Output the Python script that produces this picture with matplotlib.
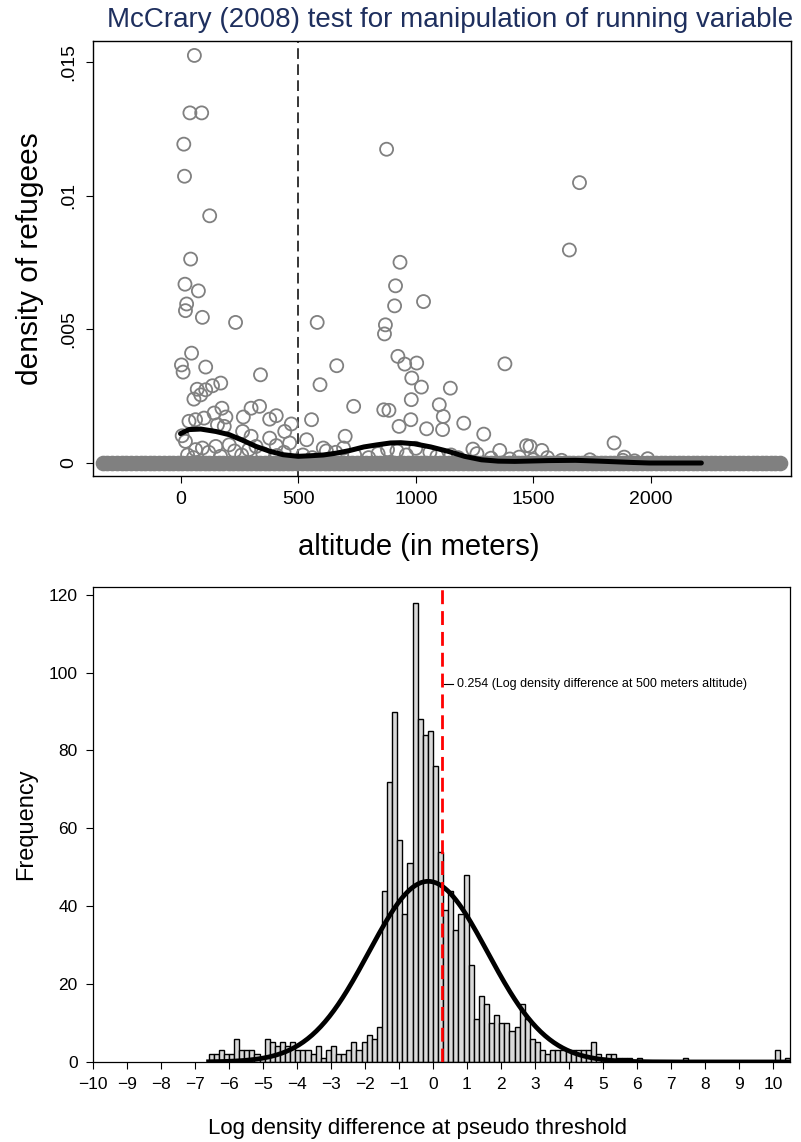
import numpy as np
import matplotlib
matplotlib.use("Agg")
import matplotlib.pyplot as plt

plt.rcParams['font.family'] = ['Liberation Sans', 'DejaVu Sans']

# ---------------- top panel data (altitude in m, density) ----------------
zero_alt = [-330, -312, -290, -271, -250, -232, -210, -191, -170, -151, -130, -112, -90, -71, -50, -31,
            -10, 8, 27, 45, 66, 84, 105, 123, 144, 163, 182, 204, 222, 243, 261, 282, 300, 321, 339,
            360, 378, 399, 418, 437, 458, 476, 497, 515, 536, 554, 575, 593, 614, 633, 652, 673, 691,
            712, 730, 751, 769, 790, 808, 829, 848, 867, 888, 906, 927, 945, 966, 984, 1005, 1023, 1044,
            1063, 1082, 1103, 1121, 1142, 1160, 1181, 1199, 1220, 1238, 1259, 1278, 1297, 1318, 1336,
            1357, 1375, 1396, 1414, 1435, 1453, 1474, 1493, 1512, 1533, 1551, 1572, 1590, 1611, 1629,
            1650, 1668, 1689, 1708, 1727, 1748, 1766, 1787, 1805, 1826, 1844, 1865, 1883, 1904, 1923,
            1942, 1963, 1981, 2002, 2020, 2041, 2059, 2080, 2098, 2119, 2138, 2157, 2178, 2196, 2217,
            2235, 2256, 2274, 2295, 2313, 2334, 2353, 2372, 2393, 2411, 2432, 2450, 2471, 2489, 2510,
            2528, 2549]

pt_alt = [59, 40, 90, 14, 17, 124, 43, 19, 76, 26, 21, 93, 234, 581, 47, 4, 11, 107, 340, 664,
          593, 171, 136, 107, 71, 57, 86, 736, 336, 300, 176, 407, 379, 267, 193, 143, 36, 64, 100,
          157, 186, 471, 443, 557, 700, 264, 300, 379, 7, 21, 536, 64, 93, 150, 207, 321, 407, 464,
          607, 693,
          876, 1696, 1653, 933, 914, 910, 1033, 871, 867, 924, 953, 1004, 1379, 983, 1024, 1147, 981,
          1100, 1117, 864, 886, 1204, 979, 929, 1046, 1114, 1289, 1843, 1243, 1357, 1471, 1486, 1536,
          1886, 1986,
          30, 55, 120, 170, 230, 260, 290, 350, 410, 440, 520, 560, 620, 660, 740, 800, 840, 880,
          920, 960, 1000, 1060, 1090, 1150, 1180, 1260, 1320, 1400, 1440, 1500, 1560, 1620, 1740,
          1880, 1930]
pt_dens = [.01525, .0131, .0131, .01193, .01073, .00925, .00763, .00669, .00644, .00595, .0057,
           .00545, .00526, .00526, .00411, .00367, .0034, .00359, .0033, .00364, .00293, .00299,
           .00289, .00274, .00276, .00239, .00255, .00212, .00212, .00205, .00205, .00177, .00164,
           .00172, .00172, .00187, .00156, .00162, .00168, .00143, .00137, .00146, .00118, .00162,
           .0010, .00118, .0010, .00093, .00102, .00081, .00087, .0005, .00056, .00062, .00068,
           .00062, .00065, .00075, .00056, .00056,
           .01174, .01049, .00797, .00751, .00663, .00588, .00604, .00517, .00483, .00399, .0037,
           .00374, .00371, .00318, .00284, .0028, .00237, .00218, .00174, .00199, .00197, .00149,
           .00162, .00137, .00128, .00125, .00108, .00075, .00052, .00047, .00065, .00062, .00047,
           .00022, .00016,
           .0003, .0002, .0004, .00025, .00045, .0003, .0005, .00035, .00028, .0004, .0003, .0002,
           .00045, .0004, .0003, .0002, .00035, .0005, .00045, .0003, .00055, .0004, .00025, .0003,
           .0002, .00035, .00018, .00015, .00022, .00012, .0002, .0001, .00012, .0001, .00008]

line_alt = [0, 36, 86, 150, 207, 264, 321, 379, 436, 500, 550, 607, 664, 721, 779, 836, 893,
            936, 993, 1064, 1136, 1207, 1279, 1350, 1421, 1564, 1679, 1779, 1921, 1993, 2214]
line_dens = [.0011, .00125, .00127, .00118, .00106, .00085, .00062, .00044, .00031, .00025, .00027,
             .0003, .00037, .00047, .0006, .00068, .00075, .00076, .00072, .0006, .00044, .00025,
             .00012, .00007, .00006, .00009, .0001, .00007, .00002, .0, .0]

cutoff = 500

# ---------------- bottom panel data ----------------
bin_start = -6.6
bin_width = 0.15
counts = [2, 2, 3, 2, 2, 6, 3, 3, 3, 2, 1, 6, 5, 4, 5, 4, 5, 3, 3, 3,
          2, 4, 1, 3, 4, 2, 2, 3, 5, 3, 5, 7, 6, 9, 44, 72, 90, 57, 38, 51,
          118, 88, 84, 85, 76, 54, 39, 44, 34, 38, 48, 25, 11, 17, 15, 10, 12, 10, 10, 8,
          9, 15, 11, 6, 5, 3, 2, 3, 3, 3, 3, 3, 3, 3, 3, 5, 2, 1, 2, 2,
          1, 1, 1, 0, 1, 0, 0, 0, 0, 0, 0, 0, 0, 1, 0, 0, 0, 0, 0, 0,
          0, 0, 0, 0, 0, 0, 0, 0, 0, 0, 0, 3, 0, 1]
# fitted normal curve
curve_mean = -0.14
curve_sd = 1.75
curve_peak = 46.4
observed = 0.254

gray = '#808080'

fig = plt.figure(figsize=(8.01, 11.42), dpi=100)

# ---------------- top ----------------
ax = fig.add_axes([0.1161, 0.5832, 0.8714, 0.3809])
ax.scatter(zero_alt, np.zeros(len(zero_alt)), s=105, color=gray, edgecolors=gray, linewidths=1, zorder=2)
ax.scatter(pt_alt, pt_dens, s=88, facecolors='none', edgecolors=gray, linewidths=1.3, zorder=2)
ax.plot(line_alt, line_dens, color='black', lw=3.6, solid_capstyle='round', zorder=3)
ax.axvline(cutoff, color='black', lw=1.1, dashes=(7, 3.5), zorder=1)
ax.set_xlim(-372, 2595)
ax.set_ylim(-0.000486, 0.01579)
ax.set_xticks([0, 500, 1000, 1500, 2000])
ax.set_yticks([0, 0.005, 0.01, 0.015])
ax.set_yticklabels(['0', '.005', '.01', '.015'], rotation=90, va='center')
ax.tick_params(direction='out', length=5, width=0.8, labelsize=14, pad=6)
ax.set_xlabel('altitude (in meters)', fontsize=21)
ax.xaxis.set_label_coords(0.466, -0.132)
ax.set_ylabel('density of refugees', fontsize=21.5, labelpad=12)
for sp in ax.spines.values():
    sp.set_linewidth(1.0)
fig.text(107 / 801, 1 - 20 / 1142, 'McCrary (2008) test for manipulation of running variable',
         ha='left', va='center', fontsize=20, color='#1e2f5e')

# ---------------- bottom ----------------
ax2 = fig.add_axes([0.1161, 0.0701, 0.870, 0.4159])
lefts = [bin_start + bin_width * i for i in range(len(counts))]
ax2.bar(lefts, counts, width=bin_width, align='edge', color='#d9d9d9', edgecolor='black',
        linewidth=1.0, zorder=2)
xs = np.linspace(bin_start, 10.5, 400)
ax2.plot(xs, curve_peak * np.exp(-0.5 * ((xs - curve_mean) / curve_sd) ** 2),
         color='black', lw=3.4, zorder=3)
ax2.axvline(observed, color='red', lw=2.0, dashes=(5, 2.5), zorder=4)
ax2.plot([observed + 0.06, observed + 0.33], [97, 97], color='black', lw=0.8)
ax2.text(observed + 0.45, 97, '0.254 (Log density difference at 500 meters altitude)',
         fontsize=9, va='center', ha='left')
ax2.set_xlim(-10, 10.5)
ax2.set_ylim(0, 122)
ax2.set_xticks(range(-10, 11))
ax2.set_xticklabels([('\u2212%d' % -v) if v < 0 else str(v) for v in range(-10, 11)])
ax2.set_yticks(range(0, 121, 20))
ax2.tick_params(direction='out', length=5, width=0.8, labelsize=12.5, pad=6)
ax2.set_xlabel('Log density difference at pseudo threshold', fontsize=16)
ax2.xaxis.set_label_coords(0.465, -0.118)
ax2.set_ylabel('Frequency', fontsize=17, labelpad=8)
for sp in ax2.spines.values():
    sp.set_linewidth(0.9)

fig.savefig('out.png', dpi=100)
